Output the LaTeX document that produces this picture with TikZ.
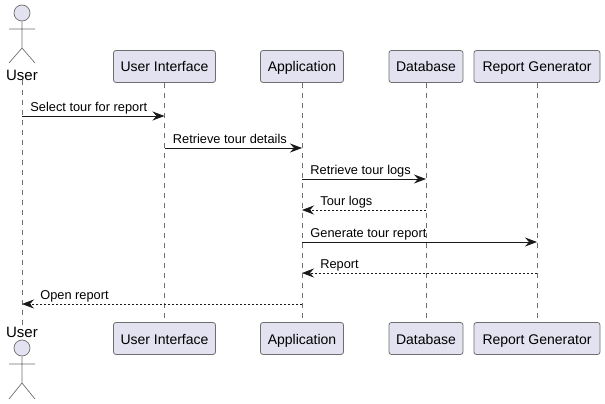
\documentclass[tikz,border=0pt]{standalone}
\usepackage{fontspec}
\setmainfont{Liberation Sans}
\usetikzlibrary{arrows.meta}
\definecolor{boxfill}{HTML}{E2E2F0}
\definecolor{boxline}{HTML}{6E6E6E}
\tikzset{
  participant/.style={draw=boxline, fill=boxfill, rounded corners=2.5pt, line width=0.8pt,
    minimum height=32pt, inner sep=0pt, text height=12pt, text depth=1pt,
    font=\fontsize{14}{16}\selectfont},
  lifeline/.style={draw=boxline, line width=0.6pt, dash pattern=on 5pt off 5pt},
  stickman/.style={draw=boxline, line width=0.7pt},
  msg/.style={draw=black!90, line width=0.9pt, -{Stealth[inset=4pt,length=12pt,width=9pt]}},
  reply/.style={msg, line width=0.7pt, dash pattern=on 2pt off 2pt},
  msgtext/.style={anchor=base west, inner sep=0pt, font=\fontsize{12.8}{15}\selectfont},
  actorname/.style={inner sep=0pt, font=\fontsize{15}{17}\selectfont}
}
\begin{document}
\begin{tikzpicture}[x=1pt,y=-1pt]
  \useasboundingbox (0,0) rectangle (605,404);

  % Participants, top row and bottom row
  \foreach \n/\x/\w/\t in {ui/164.5/102/User Interface, app/302/83/Application,
      db/426/74/Database, gen/537/126/Report Generator} {
    \node[participant, minimum width=\w pt] (\n top) at (\x,66.5) {\t};
    \node[participant, minimum width=\w pt] (\n bot) at (\x,338.5) {\t};
  }

  % Actor at the top
  \node[actorname] (usertop) at (22,75) {User};
  \node[stickman, circle, fill=boxfill, minimum size=16pt, inner sep=0pt] (headtop) at (22,13) {};
  \draw[stickman] (headtop.south) -- (22,48) (9,29) -- (35,29) (9,63) -- (22,48) -- (35,63);

  % Actor at the bottom
  \node[actorname] (userbot) at (22,332) {User};
  \node[stickman, circle, fill=boxfill, minimum size=16pt, inner sep=0pt] (headbot) at (22,348) {};
  \draw[stickman] (headbot.south) -- (22,383) (9,364) -- (35,364) (9,399) -- (22,383) -- (35,399);

  % Lifelines
  \draw[lifeline] (usertop.south) -- (userbot.north);
  \foreach \n in {ui,app,db,gen}
    \draw[lifeline] (\n top) -- (\n bot);

  % Message rows on the lifelines
  \foreach \r/\y in {a/116,b/148,c/179,d/210,e/242,f/273,g/304}
    \foreach \n/\x in {user/22,ui/164.5,app/302,db/426,gen/537}
      \coordinate (\n\r) at (\x,\y);

  % Messages
  \draw[msg] (usera) -- (uia) node[msgtext, pos=0, xshift=8pt, yshift=4.5pt] (msga) {Select tour for report};
  \draw[msg] (uib) -- (appb) node[msgtext, pos=0, xshift=8pt, yshift=4.5pt] (msgb) {Retrieve tour details};
  \draw[msg] (appc) -- (dbc) node[msgtext, pos=0, xshift=8pt, yshift=4.5pt] (msgc) {Retrieve tour logs};
  \draw[reply] (dbd) -- (appd) node[msgtext, pos=1, xshift=18pt, yshift=4.5pt] (msgd) {Tour logs};
  \draw[msg] (appe) -- (gene) node[msgtext, pos=0, xshift=8pt, yshift=4.5pt] (msge) {Generate tour report};
  \draw[reply] (genf) -- (appf) node[msgtext, pos=1, xshift=18pt, yshift=4.5pt] (msgf) {Report};
  \draw[reply] (appg) -- (userg) node[msgtext, pos=1, xshift=18pt, yshift=4.5pt] (msgg) {Open report};
\end{tikzpicture}
\end{document}
